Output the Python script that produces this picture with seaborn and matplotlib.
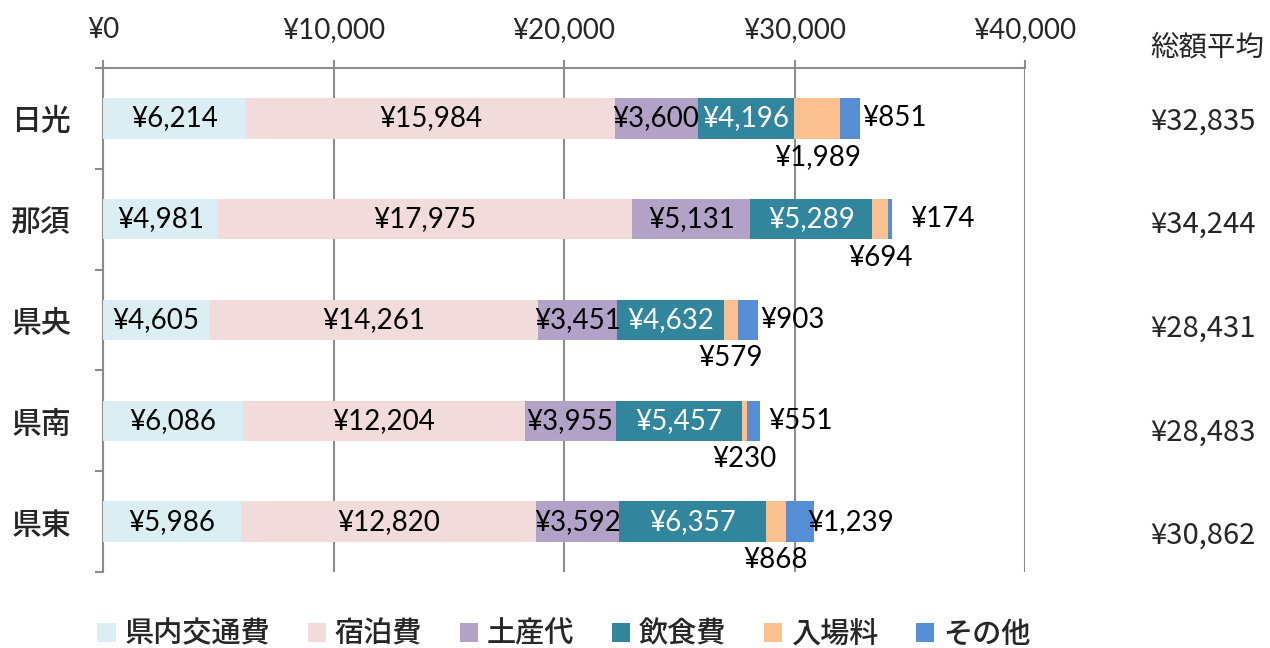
import matplotlib
matplotlib.use("Agg")
import matplotlib.pyplot as plt
import seaborn as sns
import pandas as pd
import numpy as np
from matplotlib.patches import Patch

# Average spending per visitor by area (yen)
regions = ["日光", "那須", "県央", "県南", "県東"]
categories = ["県内交通費", "宿泊費", "土産代", "飲食費", "入場料", "その他"]
transport = [6214, 4981, 4605, 6086, 5986]
lodging = [15984, 17975, 14261, 12204, 12820]
souvenir = [3600, 5131, 3451, 3955, 3592]
food = [4196, 5289, 4632, 5457, 6357]
admission = [1989, 694, 579, 230, 868]
other = [851, 174, 903, 551, 1239]
totals = [32835, 34244, 28431, 28483, 30862]
xticks = [0, 10000, 20000, 30000, 40000]
total_header = "総額平均"

colors = ["#DAEEF3", "#F2DCDB", "#B3A2C7", "#31859C", "#FAC090", "#558ED5"]
series = [transport, lodging, souvenir, food, admission, other]

sns.set_theme(style="white")
plt.rcParams["font.family"] = ["Lato", "Noto Sans CJK JP", "DejaVu Sans"]
CJK = ["Noto Sans CJK JP", "DejaVu Sans"]

# cumulative frame for stacking
vals = np.array(series, dtype=float)          # shape (cat, region)
cum = np.cumsum(vals, axis=0)
left = cum - vals
rows = []
for ci, cat in enumerate(categories):
    for ri, reg in enumerate(regions):
        rows.append({"region": reg, "category": cat, "value": vals[ci, ri],
                     "cum": cum[ci, ri], "left": left[ci, ri]})
df = pd.DataFrame(rows)

fig = plt.figure(figsize=(12.7, 6.48), dpi=100)
ax = fig.add_axes([103 / 1270, 1 - 572 / 648, 922 / 1270, 504 / 648])

# draw longest cumulative first so each shorter stack sits on top
for ci in reversed(range(len(categories))):
    sub = df[df["category"] == categories[ci]]
    sns.barplot(data=sub, x="cum", y="region", order=regions, color=colors[ci],
                saturation=1, width=0.4, linewidth=0, ax=ax, zorder=3)

ax.set_xlim(0, 40000)
ax.set_ylim(4.5, -0.5)
ax.set_xlabel("")
ax.set_ylabel("")

grid_c = "#8C8C8C"
LABEL_FS = 20
ax.xaxis.tick_top()
ax.set_xticks(xticks)
ax.set_xticklabels([f"¥{v:,}" for v in xticks], fontsize=LABEL_FS)
ax.tick_params(axis="x", which="major", direction="out", length=6, width=1.5,
               color=grid_c, pad=12, top=True, bottom=False)
ax.set_yticks(range(len(regions)))
ax.set_yticklabels(regions, fontsize=21.5, fontweight="medium", family=CJK)
ax.tick_params(axis="y", which="major", length=0, pad=23)
ax.set_yticks(np.arange(-0.5, len(regions)), minor=True)
ax.tick_params(axis="y", which="minor", direction="out", length=6, width=1.5,
               color=grid_c, left=True)

for s in ["right", "bottom"]:
    ax.spines[s].set_visible(False)
for s in ["top", "left"]:
    ax.spines[s].set_color(grid_c)
    ax.spines[s].set_linewidth(1.5)
ax.grid(axis="x", color=grid_c, linewidth=1.5, zorder=0)
ax.set_axisbelow(True)

# value labels
px = 40000 / 922.0   # data units per pixel on x
for ri in range(len(regions)):
    for ci in range(4):
        cx = left[ci, ri] + vals[ci, ri] / 2
        ax.text(cx, ri, f"¥{int(vals[ci, ri]):,}", ha="center", va="center",
                fontsize=LABEL_FS, color="white" if ci == 3 else "black", zorder=5)
    # admission label sits below its segment
    cx = left[4, ri] + vals[4, ri] / 2
    ax.text(cx, ri + 0.38, f"¥{int(vals[4, ri]):,}", ha="center", va="center",
            fontsize=LABEL_FS, color="black", zorder=5)

# other label to the right of the segment centre
other_off = [12, 20, 12, 15, 7]
for ri in range(len(regions)):
    cx = left[5, ri] + vals[5, ri] / 2 + other_off[ri] * px
    ax.text(cx, ri, f"¥{int(vals[5, ri]):,}", ha="left", va="center",
            fontsize=LABEL_FS, color="black", zorder=5)

# totals column
tx = (1207 - 103) / 922.0
ax.text(tx, -0.5 - 21 / 100.8, total_header, transform=ax.get_yaxis_transform(),
        ha="center", va="center", fontsize=20.5, family=CJK, clip_on=False)
for ri, t in enumerate(totals):
    ax.text(tx - 4 / 922.0, ri + 0.03 + 0.028 * ri, f"¥{t:,}",
            transform=ax.get_yaxis_transform(),
            ha="center", va="center", fontsize=21, family=CJK, clip_on=False)

handles = [Patch(facecolor=c, edgecolor="none") for c in colors]
leg = ax.legend(handles, categories, loc="center", bbox_to_anchor=(0.5, -0.123),
                ncol=6, frameon=False, handlelength=0.62, handleheight=0.65,
                handletextpad=0.3, columnspacing=1.3,
                prop={"family": CJK, "size": 21, "weight": "medium"})

fig.savefig("out.png", dpi=100)
